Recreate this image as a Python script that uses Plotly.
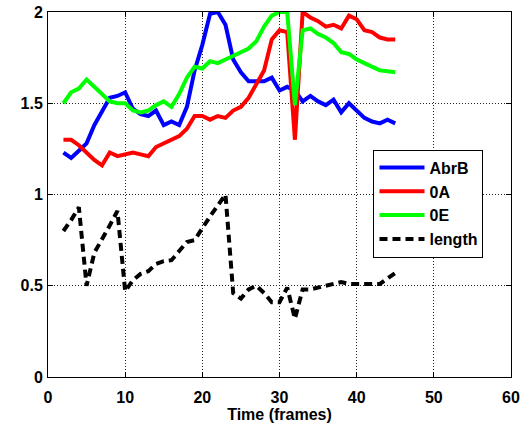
import plotly.graph_objects as go

frames = list(range(2, 46))

abrb = [1.23, 1.20, 1.24, 1.28, 1.38, 1.46, 1.53, 1.54, 1.56, 1.47,
        1.44, 1.43, 1.46, 1.38, 1.40, 1.38, 1.48, 1.68, 1.82, 1.99,
        2.00, 1.93, 1.74, 1.67, 1.62, 1.62, 1.62, 1.64, 1.57, 1.59,
        1.57, 1.51, 1.54, 1.51, 1.49, 1.52, 1.45, 1.50, 1.46, 1.42,
        1.40, 1.39, 1.41, 1.39]

oa = [1.30, 1.30, 1.27, 1.23, 1.19, 1.16, 1.23, 1.21, 1.22, 1.23,
      1.22, 1.21, 1.26, 1.28, 1.30, 1.32, 1.36, 1.43, 1.43, 1.41,
      1.43, 1.42, 1.46, 1.48, 1.53, 1.60, 1.68, 1.85, 1.90, 1.89,
      1.30, 2.00, 1.97, 1.95, 1.92, 1.93, 1.91, 1.98, 1.96, 1.90,
      1.89, 1.86, 1.85, 1.85]

oe = [1.50, 1.56, 1.58, 1.63, 1.59, 1.55, 1.51, 1.50, 1.50, 1.46,
      1.45, 1.46, 1.49, 1.51, 1.48, 1.55, 1.64, 1.70, 1.69, 1.73,
      1.72, 1.74, 1.76, 1.78, 1.80, 1.84, 1.92, 1.98, 2.00, 2.00,
      1.49, 1.90, 1.91, 1.88, 1.86, 1.83, 1.78, 1.77, 1.74, 1.72,
      1.70, 1.68, 1.675, 1.67]

length = [0.80, 0.86, 0.93, 0.50, 0.68, 0.75, 0.83, 0.91, 0.47, 0.53,
          0.565, 0.58, 0.62, 0.635, 0.64, 0.69, 0.74, 0.75, 0.82, 0.88,
          0.94, 1.00, 0.46, 0.43, 0.48, 0.50, 0.46, 0.41, 0.41, 0.49,
          0.32, 0.48, 0.48, 0.49, 0.50, 0.51, 0.52, 0.51, 0.51, 0.51,
          0.51, 0.51, 0.54, 0.57]

x_ticks = [0, 10, 20, 30, 40, 50, 60]
y_ticks = [0, 0.5, 1, 1.5, 2]
y_tick_labels = ["0", "0.5", "1", "1.5", "2"]

series = [
    ("AbrB", abrb, "#0000FF", "solid"),
    ("0A", oa, "#FF0000", "solid"),
    ("0E", oe, "#00FF00", "solid"),
    ("length", length, "#000000", "8px,5px"),
]

fig = go.Figure()
for name, vals, color, dash in series:
    fig.add_trace(go.Scatter(
        x=frames, y=vals, name=name, mode="lines",
        legendgroup=name,
        line=dict(color=color, width=4, dash=dash),
    ))

font = dict(family="Liberation Sans, Arial, sans-serif", size=16, color="black", weight="bold")

fig.update_layout(
    width=526, height=423,
    margin=dict(l=48, r=15, t=12, b=46),
    paper_bgcolor="white", plot_bgcolor="white",
    font=font,
    showlegend=True,
    legend=dict(
        x=0.703, y=0.623, xanchor="left", yanchor="top",
        bgcolor="white", bordercolor="black", borderwidth=1,
        font=font,
        tracegroupgap=0,
        itemwidth=45,
    ),
    xaxis=dict(
        range=[0, 60], tickvals=x_ticks,
        showgrid=True, gridcolor="#222222", griddash="1px,2px", gridwidth=1,
        showline=True, linecolor="black", linewidth=1, mirror="ticks",
        ticks="inside", ticklen=5, tickcolor="black",
        zeroline=False, automargin=False,
        ticklabelstandoff=6,
        title=dict(text="Time (frames)", font=font, standoff=3),
        tickfont=font,
    ),
    yaxis=dict(
        range=[0, 2], tickvals=y_ticks, ticktext=y_tick_labels,
        showgrid=True, gridcolor="#222222", griddash="1px,2px", gridwidth=1,
        showline=True, linecolor="black", linewidth=1, mirror="ticks",
        ticks="inside", ticklen=5, tickcolor="black",
        zeroline=False, automargin=False,
        ticklabelstandoff=1,
        tickfont=font,
    ),
)

fig.write_html("out.html")
